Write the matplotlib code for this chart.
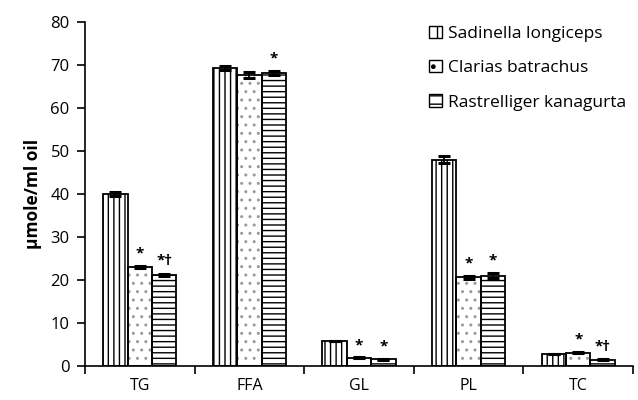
import matplotlib
matplotlib.use("Agg")
import matplotlib.pyplot as plt
from matplotlib.patches import Patch
import numpy as np

plt.rcParams['font.family'] = ['Open Sans', 'DejaVu Sans']
plt.rcParams['hatch.linewidth'] = 1.0

categories = ["TG", "FFA", "GL", "PL", "TC"]
series = ["Sadinella longiceps", "Clarias batrachus", "Rastrelliger kanagurta"]
sadinella = [40.0, 69.3, 5.8, 48.0, 2.8]
clarias = [23.0, 67.6, 1.9, 20.6, 3.1]
rastrelliger = [21.2, 68.1, 1.6, 21.0, 1.5]
err_sadinella = [0.4, 0.4, 0.1, 0.8, 0.1]
err_clarias = [0.3, 0.7, 0.15, 0.3, 0.15]
err_rastrelliger = [0.3, 0.5, 0.1, 0.6, 0.2]
marks_sadinella = ["", "", "", "", ""]
marks_clarias = ["*", "", "*", "*", "*"]
marks_rastrelliger = ["*†", "*", "*", "*", "*†"]

values = [sadinella, clarias, rastrelliger]
errors = [err_sadinella, err_clarias, err_rastrelliger]
marks = [marks_sadinella, marks_clarias, marks_rastrelliger]
hatches = ["|||", "..", "---"]
hatch_colors = ["black", "#9a9a9a", "black"]

fig = plt.figure(figsize=(6.38, 4.0), dpi=100)
ax = fig.add_axes([85/638, 34/400, 548/638, 344/400])

x = np.arange(len(categories))
w = 0.223
handles = []
for i in range(3):
    pos = x + (i - 1) * w
    # hatch layer
    ax.bar(pos, values[i], w, color="white", edgecolor=hatch_colors[i], linewidth=0,
           hatch=hatches[i], zorder=2)
    # outline layer
    ax.bar(pos, values[i], w, fill=False, edgecolor="black", linewidth=1.3, zorder=3,
           yerr=errors[i], error_kw=dict(ecolor="black", elinewidth=1.3, capsize=4, capthick=2.2,
                                          zorder=4))
    for p, v, e, m in zip(pos, values[i], errors[i], marks[i]):
        if m:
            ax.text(p, v + e + 1.2, m, ha="center", va="bottom", fontsize=11, fontweight="bold")
    handles.append(Patch(facecolor="white", edgecolor="black",
                         hatch={"|||": "||", "..": ".", "---": "--"}[hatches[i]],
                         linewidth=1.0, label=series[i]))

ax.set_xlim(-0.5, len(categories) - 0.5)
ax.set_ylim(0, 80)
ax.set_yticks(np.arange(0, 81, 10))
ax.set_xticks(x)
ax.set_xticklabels(categories, fontsize=11.5)
ax.set_xticks(np.arange(-0.5, len(categories), 1), minor=True)
ax.tick_params(axis="x", which="major", length=0, pad=9)
ax.tick_params(axis="x", which="minor", length=6, width=1.2, direction="out")
ax.tick_params(axis="y", length=6, width=1.2, direction="out", labelsize=12, pad=5)
for s in ["top", "right"]:
    ax.spines[s].set_visible(False)
ax.spines["left"].set_linewidth(1.2)
ax.spines["bottom"].set_linewidth(1.2)
ax.set_ylabel("µmole/ml oil", fontsize=12.5, fontweight="bold", labelpad=6)

ax.legend(handles=handles, loc="upper left", bbox_to_anchor=(0.60, 1.035), frameon=False, fontsize=12.5,
          labelspacing=1.05, handlelength=0.7, handleheight=0.7, handletextpad=0.35)

fig.savefig("out.png", dpi=100)
